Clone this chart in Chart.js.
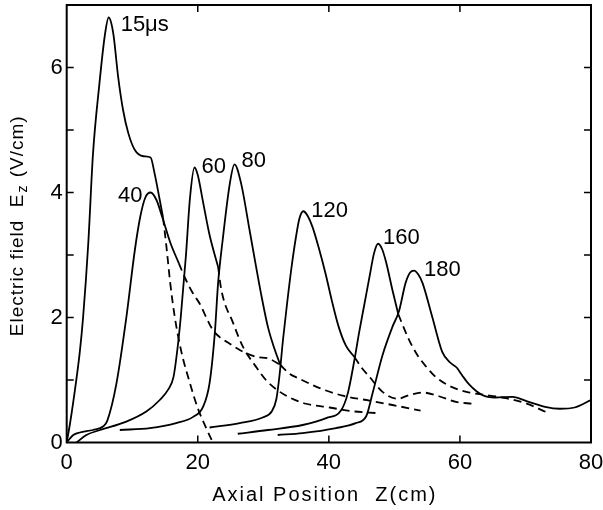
<!DOCTYPE html>
<html>
<head>
<meta charset="utf-8">
<script src="https://cdn.jsdelivr.net/npm/chart.js@4.4.1/dist/chart.umd.min.js"></script>
<style>
  html, body { margin: 0; padding: 0; background: #fff; }
  canvas { display: block; }
</style>
</head>
<body>
<canvas id="chart" width="603" height="510"></canvas>
<script>
// axial position (cm), field (V/cm) pairs
const curve15Solid = [[0, 0], [0.5, 0.3], [1.4, 0.95], [2.0, 1.45], [2.5, 2.0], [3.3, 3.2], [4.0, 4.6], [5.0, 5.75], [5.8, 6.5], [6.4, 6.8], [7.1, 6.55], [7.85, 5.85], [8.6, 5.32], [9.4, 4.95], [10.4, 4.68], [11.7, 4.58], [12.8, 4.56], [13.4, 4.31], [14.2, 3.88], [14.7, 3.6]]
const curve15Dash = [[14.7, 3.6], [15.2, 3.15], [15.8, 2.55], [16.5, 2.0], [17.5, 1.45], [18.8, 0.95], [20, 0.55], [21.2, 0.25], [22.3, 0]]

const curve40Solid = [[0, 0], [1, 0.12], [2, 0.16], [4, 0.2], [5.6, 0.26], [6.2, 0.35], [7.6, 0.95], [9.1, 2.0], [10.4, 3.08], [11.2, 3.6], [12.0, 3.92], [12.8, 4.0], [13.7, 3.88], [14.6, 3.6], [15.8, 3.2], [17.1, 2.87]]
const curve40Dash = [[17.1, 2.87], [18.2, 2.6], [19.3, 2.38], [20.3, 2.22], [21.3, 2.0], [22.3, 1.8], [23.3, 1.69], [24.6, 1.6], [26.4, 1.48], [28.9, 1.37], [30.9, 1.34], [32.6, 1.24]]

const curve60Solid = [[1.5, 0], [3, 0.12], [5.1, 0.2], [9, 0.33], [12.2, 0.5], [14.2, 0.68], [15.5, 0.85], [16.3, 1.05], [16.9, 1.5], [17.4, 2.0], [18.2, 3.0], [18.8, 3.9], [19.5, 4.4], [20.0, 4.28], [20.8, 3.85], [21.8, 3.32], [23.1, 2.81]]
const curve60Dash = [[23.1, 2.81], [23.6, 2.44], [25.4, 1.91], [26.9, 1.53], [28.9, 1.21], [30.4, 1.0], [32, 0.85], [34, 0.72], [36.5, 0.62], [40.1, 0.56], [43.6, 0.5], [47.4, 0.47]]

const curve80Solid = [[8.1, 0.2], [12.7, 0.23], [16.7, 0.31], [19.3, 0.41], [20.8, 0.57], [21.8, 0.95], [22.6, 1.75], [23.1, 2.55], [23.8, 3.24], [24.9, 4.15], [25.6, 4.45], [26.6, 4.15], [27.9, 3.4], [28.9, 2.81], [29.8, 2.3], [30.7, 1.85], [31.7, 1.5], [32.6, 1.24]]
const curve80Dash = [[32.6, 1.24], [34, 1.1], [35.5, 1.02], [38.6, 0.87], [42.1, 0.75], [46.2, 0.67], [49.7, 0.6], [54, 0.51]]

const curve120Solid = [[21.8, 0.24], [26.4, 0.31], [29.9, 0.4], [31.3, 0.5], [32, 0.7], [32.5, 1.1], [33, 1.64], [33.6, 2.2], [34.3, 2.8], [35, 3.3], [35.5, 3.58], [36.1, 3.7], [36.8, 3.62], [37.5, 3.45], [38.5, 3.1], [39.5, 2.7], [40.5, 2.25], [41.5, 1.85], [42.6, 1.55], [43.9, 1.37]]
const curve120Dash = [[43.9, 1.37], [44.9, 1.21], [46.2, 1.05], [48.2, 0.81], [50.5, 0.7], [52.3, 0.76], [54.3, 0.8], [56.8, 0.74], [59.4, 0.65], [61.9, 0.62]]

const curve160Solid = [[26.1, 0.14], [30.7, 0.2], [36, 0.28], [39.6, 0.39], [41.9, 0.52], [42.9, 0.79], [43.9, 1.32], [44.6, 1.75], [45.4, 2.2], [46.2, 2.65], [46.9, 3.03], [47.5, 3.18], [48.1, 3.1], [48.7, 2.9], [49.7, 2.44], [50.6, 2.05]]
const curve160Dash = [[50.6, 2.05], [52.2, 1.65], [53.5, 1.4], [54.8, 1.22], [56.3, 1.05], [58.5, 0.9], [61, 0.81], [63.9, 0.76], [67, 0.71], [70, 0.63], [73.1, 0.49]]

const curve180Solid = [[32.2, 0.12], [36, 0.15], [41.1, 0.23], [44.1, 0.31], [45.7, 0.42], [46.7, 0.8], [48.2, 1.4], [49.7, 1.85], [50.7, 2.1], [51.7, 2.55], [52.4, 2.72], [53, 2.75], [53.7, 2.68], [54.3, 2.55], [55.8, 2.0], [57.3, 1.45], [58.5, 1.28], [59.5, 1.2], [60.3, 1.08], [61.4, 0.93], [63.4, 0.76], [65.4, 0.72], [68, 0.73], [70.5, 0.65], [73, 0.57], [75.2, 0.54], [77.5, 0.56], [80, 0.68]]

const timeLabels = ['15\u03bcs', '40', '60', '80', '120', '160', '180']
const solidCurves = [curve15Solid, curve40Solid, curve60Solid, curve80Solid, curve120Solid, curve160Solid, curve180Solid]
const dashCurves = [curve15Dash, curve40Dash, curve60Dash, curve80Dash, curve120Dash, curve160Dash]

const xTickValues = [0, 20, 40, 60, 80]
const yTickValues = [0, 1, 2, 3, 4, 5, 6, 7]
const yLabelValues = [0, 2, 4, 6]

// pixel offset of each time label from its peak, and its alignment
const labelOffsets = [[12, 7], [-8, 3], [7, -1], [7, -3], [8, 0], [5, -6], [10, -1]]
const labelAlign = ['left', 'right', 'left', 'left', 'left', 'left', 'left']

const toPoints = arr => arr.map(([x, y]) => ({x, y}))

const datasets = []
solidCurves.forEach(c => datasets.push({data: toPoints(c), borderDash: []}))
dashCurves.forEach(c => datasets.push({data: toPoints(c), borderDash: [8, 5]}))
datasets.forEach(d => {
    d.borderColor = '#000'
    d.borderWidth = 1.8
    d.pointRadius = 0
    d.fill = false
    d.cubicInterpolationMode = 'monotone'
})

const FONT = "'Liberation Sans', Arial, sans-serif"

const framePlugin = {
    id: 'frame',
    afterDatasetsDraw(chart) {
        const {ctx, chartArea: a, scales: {x, y}} = chart
        ctx.save()
        ctx.strokeStyle = '#000'
        ctx.lineWidth = 2
        ctx.strokeRect(a.left, a.top, a.right - a.left, a.bottom - a.top)
        ctx.lineWidth = 1.5
        ctx.beginPath()
        xTickValues.slice(1, -1).forEach(v => {
            const px = x.getPixelForValue(v)
            ctx.moveTo(px, a.bottom); ctx.lineTo(px, a.bottom - 7)
            ctx.moveTo(px, a.top); ctx.lineTo(px, a.top + 7)
        })
        yTickValues.slice(1, -1).forEach(v => {
            const py = y.getPixelForValue(v)
            ctx.moveTo(a.left, py); ctx.lineTo(a.left + 7, py)
            ctx.moveTo(a.right, py); ctx.lineTo(a.right - 7, py)
        })
        ctx.stroke()

        // time labels next to each peak
        ctx.fillStyle = '#000'
        ctx.font = '22px ' + FONT
        ctx.textBaseline = 'middle'
        solidCurves.forEach((c, i) => {
            const peak = c.reduce((m, p) => p[1] > m[1] ? p : m)
            ctx.textAlign = labelAlign[i]
            ctx.fillText(timeLabels[i], x.getPixelForValue(peak[0]) + labelOffsets[i][0], y.getPixelForValue(peak[1]) + labelOffsets[i][1])
        })

        // axis titles
        ctx.font = '20px ' + FONT
        ctx.letterSpacing = '2px'
        ctx.textAlign = 'center'
        ctx.fillText('Axial Position  Z(cm)', (a.left + a.right) / 2 - 4, 495)

        ctx.translate(18, (a.top + a.bottom) / 2)
        ctx.rotate(-Math.PI / 2)
        ctx.letterSpacing = '1px'
        const part1 = 'Electric field  E'
        const sub = 'z'
        const part2 = ' (V/cm)'
        ctx.font = '19px ' + FONT
        const w1 = ctx.measureText(part1).width
        const w3 = ctx.measureText(part2).width
        ctx.font = '14px ' + FONT
        const w2 = ctx.measureText(sub).width + 2
        const start = -(w1 + w2 + w3) / 2 - 2
        ctx.textAlign = 'left'
        ctx.font = '19px ' + FONT
        ctx.fillText(part1, start, 0)
        ctx.font = '14px ' + FONT
        ctx.fillText(sub, start + w1 + 1, 5)
        ctx.font = '19px ' + FONT
        ctx.fillText(part2, start + w1 + w2, 0)
        ctx.restore()
    }
}

new Chart(document.getElementById('chart'), {
    type: 'line',
    data: {datasets},
    options: {
        responsive: false,
        animation: false,
        devicePixelRatio: 1,
        layout: {padding: {left: 0, right: 12, top: 5, bottom: 0}},
        plugins: {legend: {display: false}, tooltip: {enabled: false}},
        scales: {
            x: {
                type: 'linear',
                min: 0,
                max: 80,
                afterFit: s => { s.height = 67.5; s.paddingLeft = 0; s.paddingRight = 0 },
                afterBuildTicks: s => { s.ticks = xTickValues.map(v => ({value: v})) },
                grid: {display: false, drawTicks: false},
                border: {display: false},
                ticks: {color: '#000', padding: 7, maxRotation: 0, font: {family: FONT, size: 22}}
            },
            y: {
                type: 'linear',
                min: 0,
                max: 7,
                afterFit: s => { s.width = 66.7; s.paddingTop = 0; s.paddingBottom = 0 },
                afterBuildTicks: s => { s.ticks = yTickValues.map(v => ({value: v})) },
                grid: {display: false, drawTicks: false},
                border: {display: false},
                ticks: {
                    color: '#000',
                    padding: 4,
                    font: {family: FONT, size: 22},
                    callback: v => yLabelValues.includes(v) ? String(v) : ''
                }
            }
        }
    },
    plugins: [framePlugin]
})
</script>
</body>
</html>
